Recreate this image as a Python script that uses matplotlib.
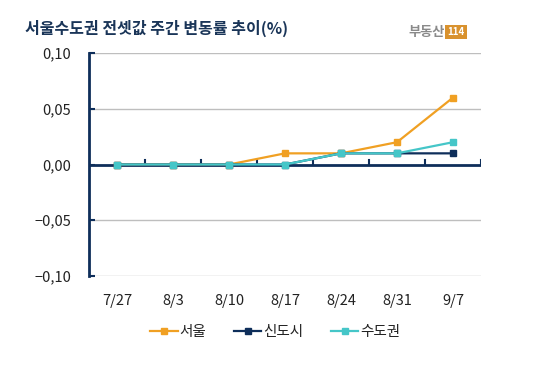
import matplotlib
matplotlib.use('Agg')
import matplotlib.pyplot as plt
import numpy as np

plt.rcParams['font.family'] = ['Noto Sans CJK KR', 'DejaVu Sans']

# weekly change of jeonse prices (%)
weeks = ['7/27', '8/3', '8/10', '8/17', '8/24', '8/31', '9/7']
seoul = [0.0, 0.0, 0.0, 0.01, 0.01, 0.02, 0.06]
newtown = [0.0, 0.0, 0.0, 0.0, 0.01, 0.01, 0.01]
capital = [0.0, 0.0, 0.0, 0.0, 0.01, 0.01, 0.02]
series_names = ['서울', '신도시', '수도권']
yticks = [-0.10, -0.05, 0.0, 0.05, 0.10]
ytick_labels = ['\u22120,10', '\u22120,05', '0,00', '0,05', '0,10']

orange = '#F0A023'
navy = '#0E2E5A'
cyan = '#45C6C8'
grid = '#BEBEBE'

fig = plt.figure(figsize=(5.51, 3.72), dpi=100)
ax = fig.add_axes([89 / 551, 96 / 372, 392 / 551, 223 / 372])

x = np.arange(len(weeks))
for yv in yticks:
    if yv != 0:
        ax.axhline(yv, color=grid, lw=1.0, zorder=1)
ax.axhline(0, color=navy, lw=2.0, zorder=2)
# category tick marks on the zero line
for b in np.arange(0.5, len(weeks), 1.0):
    ax.plot([b, b], [0, 0.004], color=navy, lw=1.5, zorder=2)

ax.plot(x, seoul, color=orange, lw=1.6, marker='s', ms=5, label=series_names[0], zorder=3)
ax.plot(x, newtown, color=navy, lw=1.6, marker='s', ms=5, label=series_names[1], zorder=4)
ax.plot(x, capital, color=cyan, lw=1.6, marker='s', ms=5, label=series_names[2], zorder=5)

ax.set_xlim(-0.5, 6.5)
ax.set_ylim(-0.10, 0.10)
ax.set_yticks(yticks)
ax.set_yticklabels(ytick_labels, fontsize=10.5, color='#222222')
ax.set_xticks(x)
ax.set_xticklabels(weeks, fontsize=10.5, color='#222222')
ax.tick_params(axis='y', direction='in', length=4, width=1.5, color=navy, pad=13)
ax.tick_params(axis='x', length=0, pad=13)
for s in ['top', 'right', 'bottom']:
    ax.spines[s].set_visible(False)
ax.spines['left'].set_color(navy)
ax.spines['left'].set_linewidth(2.0)

fig.text(25 / 551, 1 - 28 / 372, '서울수도권 전셋값 주간 변동률 추이(%)', fontsize=11.5,
         fontweight='bold', color='#1A3558', va='center', ha='left')
fig.text(445 / 551, 1 - 32 / 372, '부동산', fontsize=9.5, color='#8A8A8A',
         va='center', ha='right', fontweight='bold')
fig.text(447 / 551, 1 - 32 / 372, '114', fontsize=7, color='white', va='center', ha='left',
         fontweight='bold', bbox=dict(boxstyle='square,pad=0.25', fc='#D9922E', ec='none'))

leg = fig.legend(loc='center', bbox_to_anchor=(275 / 551, 1 - 332 / 372), ncol=3,
                 frameon=False, fontsize=10.5, handlelength=1.9, columnspacing=1.9,
                 handletextpad=0.1, markerscale=0.8)
for t in leg.get_texts():
    t.set_color('#222222')

fig.savefig('out.png', dpi=100)
